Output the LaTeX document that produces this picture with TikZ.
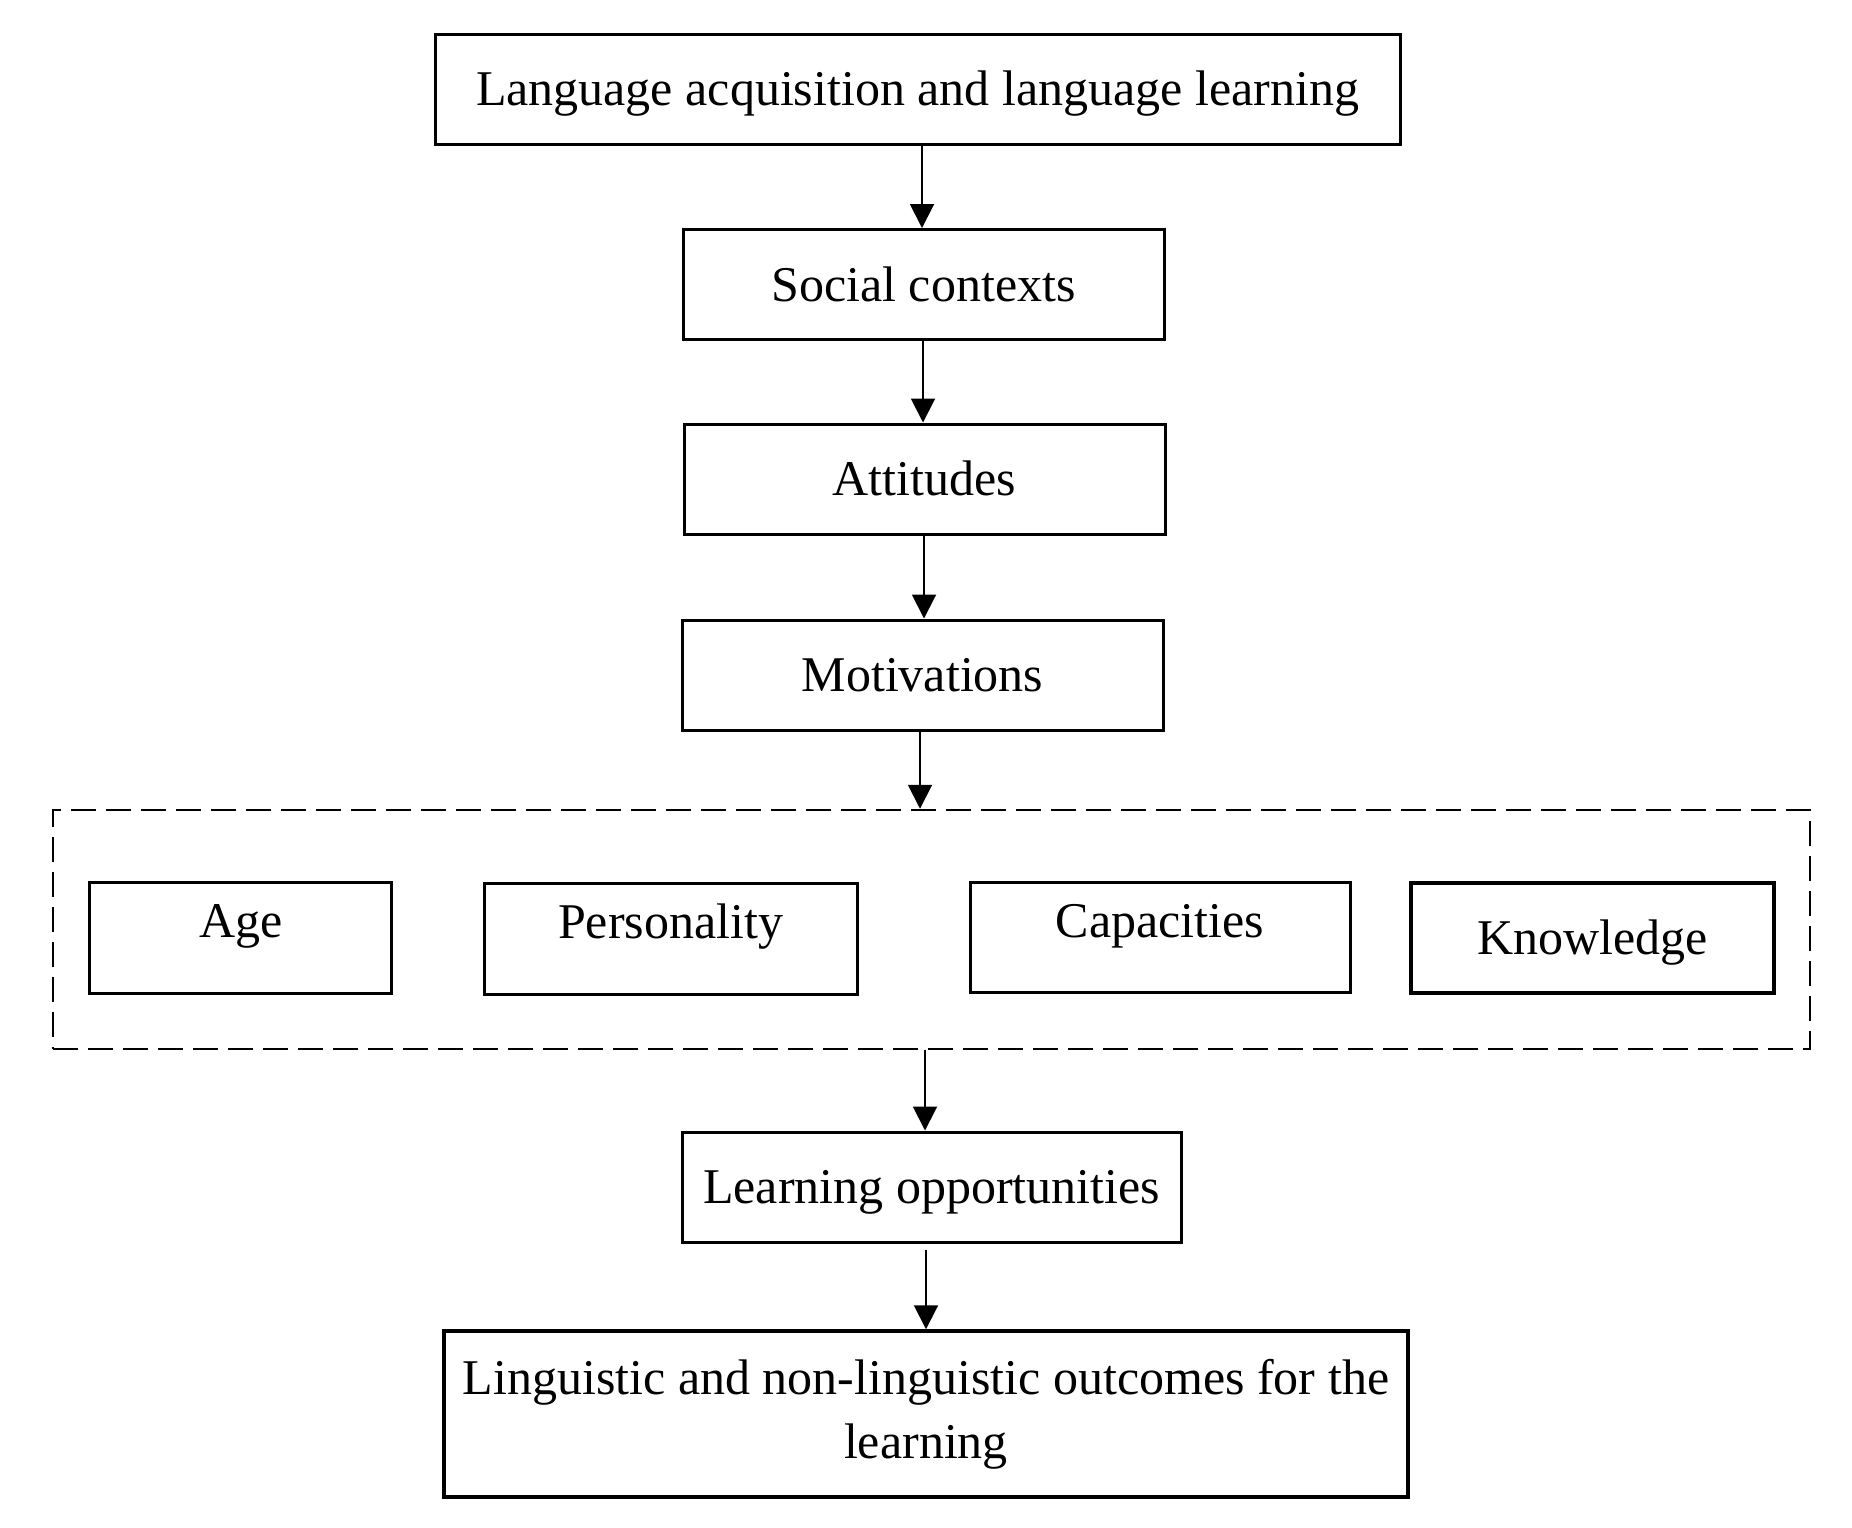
\documentclass[tikz,border=0pt]{standalone}
\usepackage{fontspec}
\setmainfont{Liberation Serif}
\usetikzlibrary{arrows.meta}
\begin{document}
\begin{tikzpicture}[x=1pt,y=-1pt,
  plainbox/.style={draw, line width=3pt, inner sep=0pt, font=\fontsize{50}{64}\selectfont},
  box/.style={plainbox, text height=33pt, text depth=0pt},
  hibox/.style={plainbox, text height=20pt, text depth=20pt},
  arr/.style={line width=2pt, -{Triangle[width=24pt,length=24pt]}},
  grpbox/.style={draw, line width=2.5pt, dash pattern=on 25pt off 10pt, inner sep=0pt}]
\useasboundingbox[fill=white] (0,0) rectangle (1852,1527);
\node[box, minimum width=965pt, minimum height=110pt] (top) at (917.5,89) {Language acquisition and language learning};
\node[box, minimum width=481pt, minimum height=110pt] (soc) at (923.5,284.5) {Social contexts};
\node[box, minimum width=481pt, minimum height=110pt] (att) at (924.5,479) {Attitudes};
\node[box, minimum width=481pt, minimum height=110pt] (mot) at (922.5,675) {Motivations};
\node[grpbox, minimum width=1757pt, minimum height=239pt] (grp) at (931.5,929.5) {};
\node[hibox, minimum width=302pt, minimum height=111pt] (age) at (240.7,937.5) {Age};
\node[hibox, minimum width=373pt, minimum height=111pt] (pers) at (670.5,938.5) {Personality};
\node[hibox, minimum width=380pt, minimum height=110pt] (cap) at (1160,937) {Capacities};
\node[box, line width=3.5pt, minimum width=363pt, minimum height=110pt] (know) at (1592.5,938) {Knowledge};
\node[box, minimum width=499pt, minimum height=110pt] (learn) at (931.5,1187) {Learning opportunities};
\node[plainbox, line width=3.5pt, align=center, minimum width=964pt, minimum height=166pt] (out) at (926,1414) {Linguistic and non-linguistic outcomes for the\\learning};
\draw[arr] ([xshift=4.5pt]top.south) -- ([xshift=-1.5pt]soc.north);
\draw[arr] ([xshift=-0.5pt]soc.south) -- ([xshift=-1.5pt]att.north);
\draw[arr] ([xshift=-0.5pt]att.south) -- ([xshift=1.5pt]mot.north);
\draw[arr] ([xshift=-2.5pt]mot.south) -- ([xshift=-11.5pt]grp.north);
\draw[arr] ([xshift=-6.5pt]grp.south) -- ([xshift=-6.5pt]learn.north);
\draw[arr] ([xshift=-5.5pt,yshift=-6pt]learn.south) -- (out.north);
\end{tikzpicture}
\end{document}
